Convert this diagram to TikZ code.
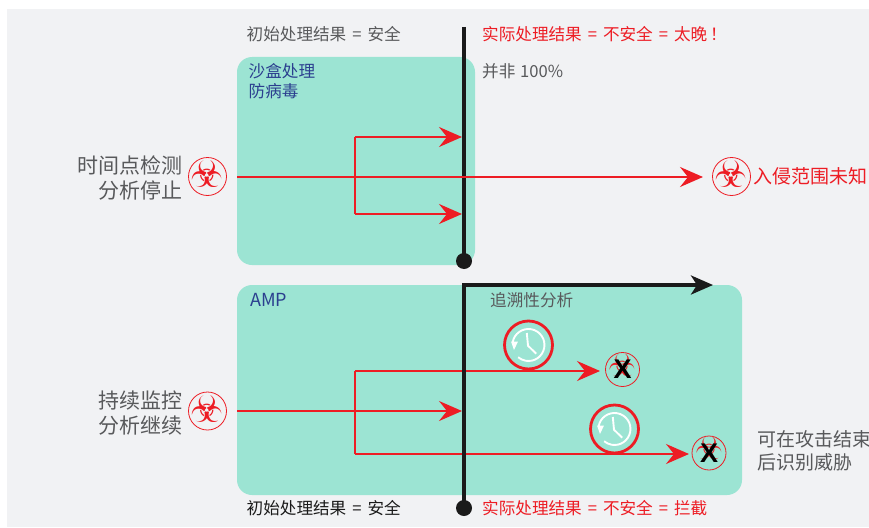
\documentclass[tikz,border=0pt]{standalone}
\usepackage{fontspec}
\setmainfont{Noto Sans CJK SC}
\newfontfamily\biofont{DejaVu Sans}
\newfontfamily\xfont{Liberation Sans}
\usetikzlibrary{arrows.meta,positioning,calc}
\definecolor{bgc}{HTML}{F1F2F4}
\definecolor{boxc}{HTML}{9CE4D3}
\definecolor{redc}{HTML}{ED1C24}
\definecolor{grayc}{HTML}{58595B}
\definecolor{bluec}{HTML}{2B3F8F}
\definecolor{blackc}{HTML}{1A1A1A}
\newcommand{\eqs}{\kern6pt=\kern6pt}
\tikzset{
  panel/.style={fill=boxc,rounded corners=15pt,draw=none},
  lab/.style={inner sep=0pt,font=\fontsize{16.6}{20}\selectfont,text=grayc,anchor=west},
  reddlab/.style={lab,text=redc},
  bluelab/.style={lab,text=bluec,align=left},
  biglab/.style={inner sep=0pt,font=\fontsize{21}{25}\selectfont,text=grayc,align=right,anchor=east},
  sidelab/.style={inner sep=0pt,font=\fontsize{19}{23}\selectfont,text=grayc,align=left,anchor=west},
  bio/.style={circle,draw=redc,line width=0.8pt,minimum size=38pt,inner sep=0pt},
  smallbio/.style={bio,minimum size=34pt},
  biotext/.style={inner sep=0pt,text=redc,yshift=2.5pt,font=\biofont\fontsize{37}{37}\selectfont},
  smallbiotext/.style={biotext,yshift=2pt,font=\biofont\fontsize{31}{31}\selectfont},
  redline/.style={draw=redc,line width=2.3pt},
  redarrow/.style={redline,-{Stealth[length=23pt,width=20pt,inset=8pt]}},
  timeline/.style={draw=blackc,line width=3.6pt},
  dot/.style={circle,fill=blackc,minimum size=16pt,inner sep=0pt},
  clockc/.style={circle,draw=redc,line width=2.8pt,minimum size=48pt,inner sep=0pt},
  xmark/.style={inner sep=0pt,font=\xfont\bfseries\fontsize{27}{27}\selectfont,text=black},
}
\newcommand{\clockface}[1]{%
  \draw[white,line width=1.9pt] ($(#1)+(-15.8,-2.8)$) arc[start angle=170,end angle=-130,radius=16pt];
  \fill[white] ($(#1)+(-17.5,-3.5)$) -- ($(#1)+(-10.5,-3.5)$) -- ($(#1)+(-14.5,5)$) -- cycle;
  \draw[white,line width=1.9pt] ($(#1)+(-1.7,-12)$) -- ($(#1)+(-0.5,0.7)$) -- ($(#1)+(7.7,8.7)$);
}
\begin{document}
\begin{tikzpicture}[x=1pt,y=-1pt]
\useasboundingbox (0,0) rectangle (869,527);
\fill[bgc] (7,9) rectangle (869,527);
\node[panel,minimum width=238pt,minimum height=208pt] (box1) at (356,161) {};
\node[panel,minimum width=505pt,minimum height=210pt] (box2) at (489.5,390) {};

\node[lab] (t1) at (246.5,33.7) {初始处理结果\eqs 安全};
\node[reddlab] (t2) at (482,33.7) {实际处理结果\eqs 不安全\eqs 太晚\kern3pt！};
\node[lab] (t3) at (482,71.5) {并非 \kern1pt100\%};
\node[bluelab] (t4) at (248.5,81) {沙盒处理\\防病毒};
\node[bluelab,font=\fontsize{18}{20}\selectfont] (t5) at (250,299.5) {AMP};
\node[lab] (t6) at (490,300.5) {追溯性分析};
\node[lab,text=blackc] (t7) at (246.5,507.7) {初始处理结果\eqs 安全};
\node[reddlab] (t8) at (482,507.7) {实际处理结果\eqs 不安全\eqs 拦截};
\node[biglab] (t9) at (182.5,178) {时间点检测\\分析停止};
\node[biglab] (t10) at (182.5,413) {持续监控\\分析继续};
\node[sidelab] (t11) at (757,451) {可在攻击结束\\后识别威胁};
\node[inner sep=0pt,anchor=west,text=redc,font=\fontsize{19}{22}\selectfont] (t12) at (753.5,176) {入侵范围未知};

\node[bio] (b1) at (207.5,176.5) {};
\node[bio] (b2) at (731.5,176.5) {};
\node[bio] (b3) at (207.5,411) {};
\node[smallbio] (b4) at (622.5,369.5) {};
\node[smallbio] (b5) at (709,453) {};
\node[biotext] (g1) at (b1) {☣};
\node[biotext] (g2) at (b2) {☣};
\node[biotext] (g3) at (b3) {☣};
\node[smallbiotext] (g4) at (b4) {☣};
\node[smallbiotext] (g5) at (b5) {☣};
\node[xmark] (x4) at (b4) {X};
\node[xmark] (x5) at (b5) {X};

\coordinate (s1) at (237,177);
\coordinate (e1) at (703,177);
\coordinate (j1a) at (355,137);
\coordinate (j1b) at (355,214);
\coordinate (e1a) at (462,137);
\coordinate (e1b) at (462,214);
\draw[redline] (j1a) -- (j1b);
\draw[redarrow] (j1a) -- (e1a);
\draw[redarrow] (j1b) -- (e1b);

\node[dot] (d1) at (464,261) {};
\node[dot] (d2) at (464,508) {};
\coordinate (top1) at (464,27);
\coordinate (corner) at (464,285);
\coordinate (end2) at (713,285);
\draw[timeline] (top1) -- (d1.center);
\draw[redarrow] (s1) -- (e1);

\coordinate (s2) at (237,411);
\coordinate (e2) at (462,411);
\coordinate (j2a) at (355,371);
\coordinate (j2b) at (355,454);
\coordinate (e2a) at (600,371);
\coordinate (e2b) at (689,454);
\draw[redline] (j2a) -- (j2b);
\draw[redarrow] (s2) -- (e2);
\draw[redarrow] (j2a) -- (e2a);
\draw[redarrow] (j2b) -- (e2b);
\draw[timeline,-{Stealth[length=22pt,width=19pt,inset=6pt]}] (d2.center) -- (corner) -- (end2);

\node[clockc] (c1) at (528.5,345) {};
\node[clockc] (c2) at (614.5,429) {};
\clockface{c1}
\clockface{c2}
\end{tikzpicture}
\end{document}
